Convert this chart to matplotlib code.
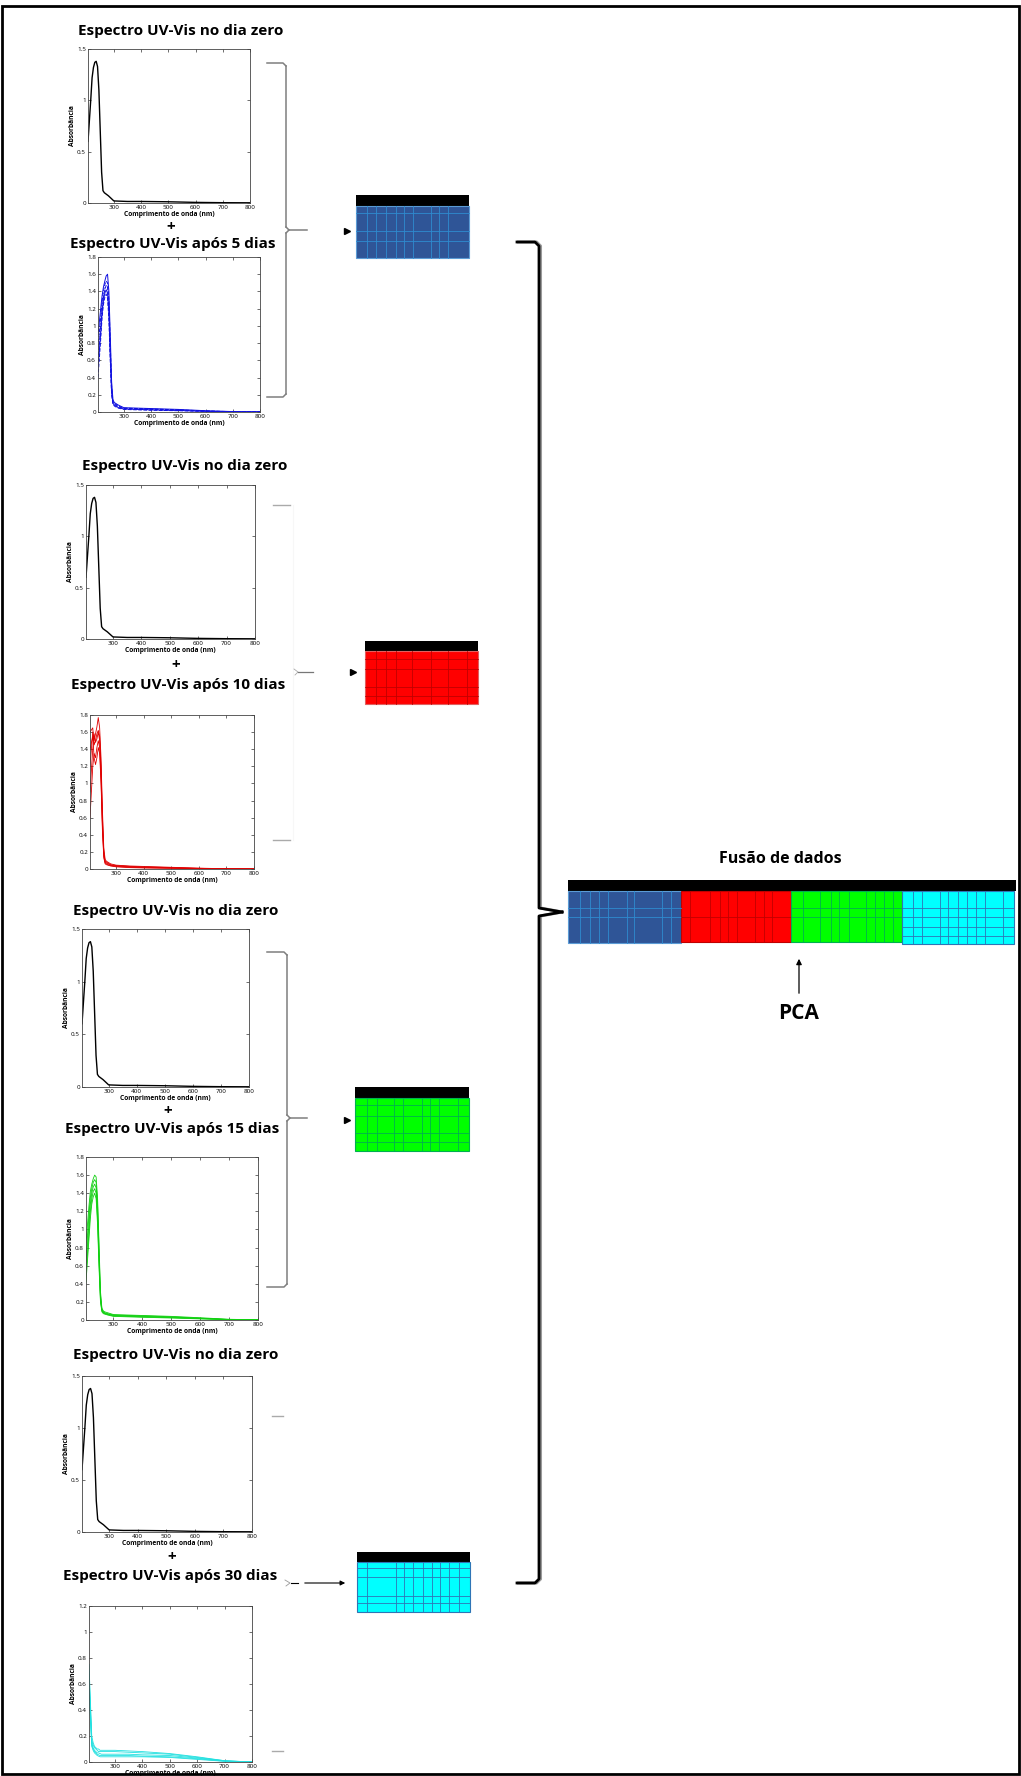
import matplotlib
matplotlib.use("Agg")
import matplotlib.pyplot as plt
from matplotlib.patches import Rectangle

plt.rcParams['font.family'] = ['Open Sans', 'DejaVu Sans']

W, H = 1021, 1776

# wavelengths (nm) shared by all spectra
wl = [205, 215, 220, 225, 230, 235, 240, 245, 250, 255, 260, 265, 270, 280, 300, 350, 400, 500, 600, 700, 800]

# day zero spectrum (same in the four groups)
dia_zero = [0.60, 1.00, 1.22, 1.32, 1.37, 1.38, 1.33, 1.10, 0.70, 0.30, 0.12, 0.10, 0.09, 0.07, 0.02, 0.015, 0.015, 0.012, 0.006, 0.003, 0.002]

dias_5 = [
    [0.90, 1.20, 1.35, 1.45, 1.52, 1.58, 1.60, 1.40, 0.90, 0.35, 0.14, 0.11, 0.10, 0.08, 0.05, 0.045, 0.04, 0.03, 0.015, 0.005, 0.002],
    [0.75, 1.10, 1.28, 1.40, 1.48, 1.52, 1.50, 1.30, 0.80, 0.30, 0.12, 0.10, 0.09, 0.07, 0.045, 0.04, 0.035, 0.025, 0.012, 0.004, 0.002],
    [0.60, 1.00, 1.20, 1.33, 1.42, 1.47, 1.45, 1.22, 0.72, 0.26, 0.11, 0.09, 0.08, 0.06, 0.04, 0.035, 0.03, 0.02, 0.01, 0.003, 0.001],
    [0.50, 0.92, 1.15, 1.30, 1.38, 1.42, 1.38, 1.15, 0.65, 0.22, 0.10, 0.08, 0.07, 0.05, 0.035, 0.03, 0.025, 0.018, 0.008, 0.003, 0.001],
    [0.40, 0.85, 1.10, 1.25, 1.33, 1.37, 1.32, 1.08, 0.60, 0.20, 0.09, 0.07, 0.06, 0.045, 0.03, 0.025, 0.02, 0.015, 0.007, 0.002, 0.001],
]
dias_10 = [
    [1.20, 1.60, 1.50, 1.58, 1.66, 1.77, 1.65, 1.30, 0.70, 0.25, 0.11, 0.09, 0.08, 0.06, 0.045, 0.035, 0.03, 0.02, 0.01, 0.003, 0.001],
    [1.60, 1.65, 1.45, 1.50, 1.58, 1.62, 1.55, 1.20, 0.62, 0.20, 0.09, 0.08, 0.07, 0.05, 0.04, 0.03, 0.025, 0.016, 0.008, 0.002, 0.001],
    [0.90, 1.40, 1.58, 1.48, 1.52, 1.60, 1.50, 1.15, 0.55, 0.18, 0.08, 0.07, 0.06, 0.045, 0.035, 0.025, 0.02, 0.013, 0.006, 0.002, 0.001],
    [0.60, 1.20, 1.35, 1.30, 1.42, 1.50, 1.42, 1.05, 0.50, 0.15, 0.07, 0.06, 0.05, 0.04, 0.03, 0.02, 0.016, 0.01, 0.005, 0.002, 0.0],
    [1.40, 1.55, 1.30, 1.22, 1.30, 1.42, 1.35, 1.00, 0.45, 0.13, 0.06, 0.05, 0.045, 0.035, 0.025, 0.016, 0.012, 0.008, 0.004, 0.001, 0.0],
]
dias_15 = [
    [0.85, 1.25, 1.42, 1.50, 1.56, 1.60, 1.58, 1.35, 0.85, 0.32, 0.13, 0.10, 0.09, 0.08, 0.06, 0.055, 0.05, 0.04, 0.025, 0.008, 0.002],
    [0.70, 1.15, 1.35, 1.45, 1.52, 1.55, 1.52, 1.28, 0.78, 0.28, 0.12, 0.09, 0.08, 0.07, 0.055, 0.05, 0.045, 0.035, 0.02, 0.006, 0.002],
    [0.60, 1.05, 1.28, 1.40, 1.47, 1.50, 1.46, 1.20, 0.70, 0.25, 0.11, 0.085, 0.075, 0.065, 0.05, 0.045, 0.04, 0.03, 0.018, 0.005, 0.001],
    [0.50, 0.95, 1.20, 1.34, 1.42, 1.45, 1.40, 1.12, 0.64, 0.22, 0.10, 0.08, 0.07, 0.06, 0.045, 0.04, 0.035, 0.026, 0.015, 0.004, 0.001],
    [0.42, 0.88, 1.12, 1.28, 1.36, 1.40, 1.34, 1.05, 0.58, 0.20, 0.09, 0.07, 0.065, 0.055, 0.04, 0.035, 0.03, 0.022, 0.012, 0.003, 0.001],
]
dias_30 = [
    [0.75, 0.20, 0.15, 0.12, 0.11, 0.10, 0.10, 0.09, 0.09, 0.09, 0.09, 0.09, 0.09, 0.09, 0.09, 0.085, 0.08, 0.065, 0.04, 0.01, 0.0],
    [0.70, 0.17, 0.13, 0.11, 0.10, 0.09, 0.08, 0.08, 0.08, 0.08, 0.08, 0.08, 0.08, 0.08, 0.08, 0.075, 0.07, 0.06, 0.035, 0.01, 0.0],
    [0.65, 0.15, 0.11, 0.09, 0.08, 0.07, 0.07, 0.065, 0.06, 0.06, 0.06, 0.06, 0.06, 0.06, 0.06, 0.06, 0.055, 0.05, 0.03, 0.008, 0.0],
    [0.60, 0.13, 0.10, 0.08, 0.07, 0.06, 0.055, 0.05, 0.05, 0.05, 0.05, 0.05, 0.05, 0.05, 0.05, 0.05, 0.045, 0.04, 0.025, 0.006, 0.0],
    [0.55, 0.12, 0.09, 0.07, 0.06, 0.05, 0.045, 0.04, 0.04, 0.04, 0.04, 0.04, 0.04, 0.04, 0.04, 0.04, 0.04, 0.035, 0.02, 0.005, 0.0],
]

x_ticks = [300, 400, 500, 600, 700, 800]
y_zero = [0, 0.5, 1, 1.5]
y_aged = [0, 0.2, 0.4, 0.6, 0.8, 1, 1.2, 1.4, 1.6, 1.8]
y_30 = [0, 0.2, 0.4, 0.6, 0.8, 1, 1.2]

titulo_zero = "Espectro UV-Vis no dia zero"
titulos = ["Espectro UV-Vis após 5 dias", "Espectro UV-Vis após 10 dias",
           "Espectro UV-Vis após 15 dias", "Espectro UV-Vis após 30 dias"]


fig = plt.figure(figsize=(W / 100, H / 100), dpi=100)
ov = fig.add_axes([0, 0, 1, 1])
ov.set_xlim(0, W)
ov.set_ylim(H, 0)
ov.axis('off')


def box(x0, y0, x1, y1):
    return [x0 / W, 1 - y1 / H, (x1 - x0) / W, (y1 - y0) / H]


def spectrum(rect, curves, color, ymax, yt, styles, lw=0.7):
    ax = fig.add_axes(box(*rect))
    for vals, ls in zip(curves, styles):
        ax.plot(wl, vals, color=color, lw=lw, ls=ls)
    ax.set_xlim(205, 800)
    ax.set_ylim(0, ymax)
    ax.set_xticks(x_ticks)
    ax.set_yticks(yt)
    ax.set_yticklabels(['%g' % v for v in yt])
    ax.tick_params(direction='in', length=2, width=0.4, labelsize=4.5, top=True, right=True, pad=1.5)
    for s in ax.spines.values():
        s.set_linewidth(0.6)
        s.set_color('#444444')
    ax.set_xlabel('Comprimento de onda (nm)', fontsize=4.8, fontweight='bold', labelpad=0.5)
    ax.set_ylabel('Absorbância', fontsize=4.8, fontweight='bold', labelpad=1)
    return ax


def matrix(x0, y0, x1, yh, y1, face, grid, edge, cols, rows):
    ov.add_patch(Rectangle((x0, y0), x1 - x0, yh - y0, fc='black', ec='none'))
    ov.add_patch(Rectangle((x0, yh), x1 - x0, y1 - yh, fc=face, ec=edge, lw=0.8))
    for c in cols:
        ov.plot([c, c], [yh, y1], color=grid, lw=0.6)
    for r in rows:
        ov.plot([x0, x1], [r, r], color=grid, lw=0.6)


def bracket(xl, xv, ytop, ymid, ybot, xtip, color, vcolor):
    ov.plot([xl, xv - 3, xv], [ytop, ytop, ytop + 3], color=color, lw=1.1)
    ov.plot([xl, xv - 3, xv], [ybot, ybot, ybot - 3], color=color, lw=1.1)
    ov.plot([xv, xv], [ytop + 3, ymid - 3], color=vcolor, lw=1.1)
    ov.plot([xv, xv], [ymid + 3, ybot - 3], color=vcolor, lw=1.1)
    ov.plot([xv, xv + 3, xtip], [ymid - 3, ymid, ymid], color=color, lw=1.1)
    ov.plot([xv, xv + 3], [ymid + 3, ymid], color=vcolor, lw=1.1)


tfont = dict(fontsize=11, fontweight='bold', ha='center', va='center')
zero_styles = ['-']
aged_styles = [['-', '--', '--', '-', '--'], ['-'] * 5, ['-'] * 5, ['-'] * 5]

# group 1 - 5 dias (blue)
ov.text(181, 31, titulo_zero, **tfont)
spectrum((88, 49, 250, 203), [dia_zero], 'black', 1.5, y_zero, zero_styles, lw=1.0)
ov.text(171, 227, '+', **tfont)
ov.text(173, 244, titulos[0], **tfont)
spectrum((98, 257, 260, 412), dias_5, '#1010e0', 1.8, y_aged, aged_styles[0])
bracket(267, 286, 63, 230, 397, 307, '#7f7f7f', '#7f7f7f')
ov.plot([347], [231], marker='>', color='black', ms=4)
matrix(356, 195, 469, 206, 258, '#2F5597', '#2E8BD0', '#5B9BD5',
       [367, 376, 386, 396, 404, 413, 431, 439, 448], [213, 231, 241])

# group 2 - 10 dias (red)
ov.text(185, 466, titulo_zero, **tfont)
spectrum((86, 485, 255, 639), [dia_zero], 'black', 1.5, y_zero, zero_styles, lw=1.0)
ov.text(176, 665, '+', **tfont)
ov.text(178, 685, titulos[1], **tfont)
spectrum((90, 715, 254, 869), dias_10, '#e00000', 1.8, y_aged, aged_styles[1], lw=0.6)
ov.plot([273, 290], [505, 505], color='#aaaaaa', lw=1.0)
ov.plot([273, 290], [840, 840], color='#aaaaaa', lw=1.0)
ov.plot([293, 293], [505, 840], color='#f7f7f7', lw=0.8)
ov.plot([294, 298, 295], [669, 672, 675], color='#aaaaaa', lw=0.6)
ov.plot([298, 313], [672, 672], color='#777777', lw=0.9)
ov.plot([353], [672], marker='>', color='black', ms=4)
matrix(365, 641, 478, 651, 704, '#FF0000', '#C00000', '#E06060',
       [376, 386, 396, 412, 431, 448, 467], [659, 669, 687, 696])

# group 3 - 15 dias (green)
ov.text(176, 911, titulo_zero, **tfont)
spectrum((82, 929, 249, 1087), [dia_zero], 'black', 1.5, y_zero, zero_styles, lw=1.0)
ov.text(168, 1111, '+', **tfont)
ov.text(172, 1129, titulos[2], **tfont)
spectrum((86, 1157, 258, 1320), dias_15, '#10d010', 1.8, y_aged, aged_styles[2], lw=0.6)
bracket(267, 287, 952, 1118, 1287, 307, '#7f7f7f', '#7f7f7f')
ov.plot([347], [1120], marker='>', color='black', ms=4)
matrix(355, 1087, 469, 1098, 1151, '#00FF00', '#00B050', '#00B050',
       [367, 377, 394, 403, 422, 430, 439, 458], [1105, 1116, 1133, 1142])

# group 4 - 30 dias (cyan)
ov.text(176, 1355, titulo_zero, **tfont)
spectrum((82, 1376, 252, 1532), [dia_zero], 'black', 1.5, y_zero, zero_styles, lw=1.0)
ov.text(172, 1557, '+', **tfont)
ov.text(170, 1576, titulos[3], **tfont)
spectrum((89, 1606, 252, 1762), dias_30, '#20e0e0', 1.2, y_30, aged_styles[3], lw=0.6)
ov.plot([272, 283], [1416, 1416], color='#aaaaaa', lw=1.0)
ov.plot([272, 283], [1751, 1751], color='#aaaaaa', lw=1.0)
ov.plot([285, 290, 286], [1580, 1583, 1586], color='#999999', lw=0.6)
ov.plot([291, 298], [1583, 1583], color='black', lw=0.8)
ov.annotate('', xy=(348, 1583), xytext=(302, 1583),
            arrowprops=dict(arrowstyle='-|>', color='black', lw=0.8, mutation_scale=7))
matrix(357, 1552, 470, 1562, 1612, '#00FFFF', '#2E75B6', '#2E75B6',
       [367, 396, 404, 413, 423, 432, 440, 449, 459], [1568, 1577, 1596, 1603])

# big brace joining the four matrices
for dx, col, lw in [(1.5, '#9a9a9a', 2.2), (0, 'black', 2.0)]:
    ov.plot([517 + dx, 535 + dx, 539 + dx, 539 + dx, 562], [242, 242, 246, 908, 912], color=col, lw=lw)
    ov.plot([562, 539 + dx, 539 + dx, 535 + dx, 517 + dx], [912, 916, 1579, 1583, 1583], color=col, lw=lw)

# data fusion block
ov.text(780, 859, 'Fusão de dados', fontsize=11.5, fontweight='bold', ha='center', va='center')
ov.add_patch(Rectangle((568, 880), 1016 - 568, 11, fc='black', ec='none'))
matrix(568, 891, 681, 891, 943, '#2F5597', '#2E8BD0', '#5B9BD5',
       [580, 590, 599, 608, 627, 634, 662, 671], [908, 917])
matrix(681, 891, 791, 891, 942, '#FF0000', '#C00000', '#C00000',
       [690, 710, 720, 728, 737, 755, 764, 772], [917])
matrix(791, 891, 902, 891, 942, '#00FF00', '#00B050', '#00B050',
       [803, 820, 831, 839, 849, 866, 875, 884, 893], [908, 917])
matrix(902, 891, 1014, 891, 944, '#00FFFF', '#2E75B6', '#2E75B6',
       [913, 922, 940, 948, 958, 967, 976, 985, 1003], [908, 917, 927, 936])

ov.annotate('', xy=(799, 956), xytext=(799, 996),
            arrowprops=dict(arrowstyle='-|>', color='black', lw=0.9, mutation_scale=8))
ov.text(799, 1013, 'PCA', fontsize=15, fontweight='bold', ha='center', va='center')

# outer frame
ov.add_patch(Rectangle((2, 6), 1017, 1768, fc='none', ec='black', lw=2))

fig.savefig('out.png', dpi=100)
